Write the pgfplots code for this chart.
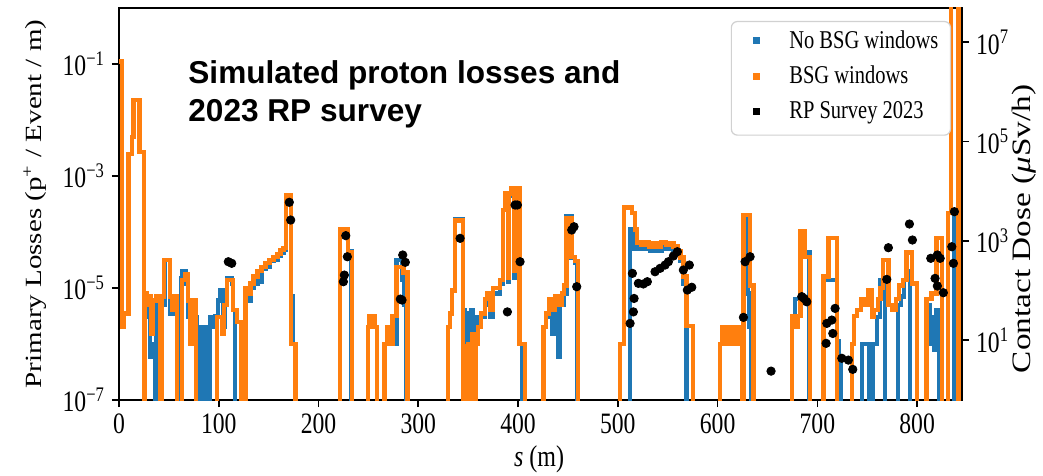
\documentclass[border=0pt]{standalone}
\usepackage{fontspec}
\setmainfont{Liberation Serif}
\newfontfamily\hfont[FakeStretch=0.8]{Liberation Serif}
\newfontfamily\vfont[FakeStretch=1.25]{Liberation Serif}
\newfontfamily\annfont{Liberation Sans}
\usepackage{pgfplots}
\pgfplotsset{compat=1.18}
\definecolor{tabblue}{HTML}{1F77B4}
\definecolor{taborange}{HTML}{FF7F0E}
\newcommand\tickfont{\hfont\fontsize{14.8pt}{17pt}\selectfont}
\newcommand\legfont{\hfont\fontsize{12.8pt}{15pt}\selectfont}
\pgfplotsset{
  common/.style={
    width=421.5pt, height=196pt, scale only axis,
    xmin=0, xmax=845,
    tick align=outside, major tick length=3.5pt,
    axis line style={line width=0.8pt},
    every tick/.style={black, line width=0.8pt},
    tick label style={font=\tickfont},
    /pgf/number format/assume math mode=true,
    yminorticks=false, xminorticks=false,
  },
  sqimg/.style={legend image code/.code={
    \path[draw=none, fill=none] (0,-3pt) rectangle (23pt,3pt);
    \fill[#1, draw=none, sharp corners] (5.75pt,-1.75pt) rectangle (9.25pt,1.75pt);}}
}
\begin{document}
\begin{tikzpicture}
\path[use as bounding box] (-59.5pt,-38pt) rectangle (462pt,200pt);
\begin{axis}[common,
  ymode=log, ymin=1e-7, ymax=1,
  tick pos=left,
  xtick={0,100,...,800},
  ytick={1e-7,1e-5,1e-3,1e-1},
  yticklabels={10\textsuperscript{−7},10\textsuperscript{−5},10\textsuperscript{−3},10\textsuperscript{−1}},
]
\addplot[const plot, tabblue, line width=2.2pt] coordinates {
(0,1.1e-1)(3,2e-6)(5,3.5e-6)(9.5,2.5e-3)(13,5e-3)(14.5,2.3e-2)(20.5,2.7e-3)(25,1e-10)(26,6e-6)(29,3e-6)(31,6e-7)(33,1e-6)(36,1e-10)(37,5e-6)(41,1e-10)(43,5e-6)(45.5,3.2e-5)(51,3.5e-6)(55,5e-6)(58,1e-10)(62,1.5e-5)(63.5,2e-5)(67,1.2e-5)(69,3e-6)(72,1e-6)(75,3e-6)(78,1e-10)(82.5,2e-6)(85,1e-10)(86,2e-6)(90,1e-10)(91,3e-6)(94,2e-6)(96,3.2e-6)(99,6e-6)(101,9e-6)(104,2e-6)(106,8e-6)(108,1.5e-5)(113,1.2e-5)(114,4e-6)(116,1e-10)(123,1.6e-6)(126,1e-10)(127,9e-6)(130,6e-6)(132,1e-5)(135,1.2e-5)(139,1.8e-5)(141,1.3e-5)(143,2.2e-5)(147,2.4e-5)(151,3e-5)(155,3.2e-5)(159,3.8e-5)(162,4.2e-5)(165,4.8e-5)(167.5,4.2e-4)(172.5,7e-6)(174.5,1e-6)(177,1e-10)
(221.5,1.1e-4)(229.5,4.6e-5)(233,1e-10)
(249.5,2e-6)(251,3.2e-6)(256,2e-6)(258.5,1e-10)(266,1e-6)(269,2e-6)(272,1e-6)(274,2e-6)(276,1e-6)(278,3.2e-5)(284,1.4e-5)(286,5e-6)(288,1e-10)
(330,2e-6)(332,3.5e-6)(334,9e-6)(337,1.7e-4)(345,4e-6)(347,1e-10)(349,3.5e-6)(351,1e-6)(353,4e-6)(355,1e-6)(357,3e-6)(360,2e-6)(363,3e-6)(367,5e-6)(369,6e-6)(372,3e-6)(375,8e-6)(382,1.2e-5)(385,2.5e-4)(387,4.5e-4)(390,1.3e-5)(391,4.5e-4)(393.5,5.5e-4)(396,1.5e-5)(397,5.5e-4)(401.5,1e-6)(404,1e-10)
(425.5,2e-6)(428,3e-6)(431,4e-6)(434,1.5e-6)(437,5e-6)(440,6e-7)(442,5e-6)(446,8e-6)(448.5,1.9e-4)(453.5,3.5e-5)(457,2.8e-5)(459,1e-10)
(512,1.1e-4)(516,5e-5)(520,5.5e-5)(524,5e-5)(528,5.5e-5)(532,4.6e-5)(536,5.2e-5)(540,4.7e-5)(544,5.5e-5)(548,5e-5)(552,5.5e-5)(556,4.8e-5)(560,4e-5)(563,3e-5)(566,1.2e-5)(569,1e-10)
(602.5,1e-6)(604.5,2e-6)(606,1e-6)(608.5,2e-6)(613,1e-6)(616,2e-6)(620,1e-6)(622.5,2e-6)(625.5,1e-10)(626,1.9e-4)(630,8e-6)(632,2e-6)(634,1e-10)
(674.5,2e-6)(677.5,6.3e-6)(683,4e-5)(687,4.3e-5)(692,1e-10)
(706,1.4e-5)(711,1.4e-5)(719.5,1.1e-6)(721.5,6e-7)(724,1e-10)
(745,1e-6)(752,1e-10)(756,1e-6)(760,3e-6)(763,1.4e-5)(768,1e-10)(781,5e-6)(784,7e-6)(787,1.4e-5)(790,2e-5)(793,1e-10)
(810,5e-6)(813,1e-6)(815,3e-6)(817,8e-7)(819.5,4e-6)(822,1e-10)
(831,2.2e-4)(837.5,1e-10)(845,1e-10)
};
\addplot[const plot, taborange, line width=2.2pt] coordinates {
(0,1.1e-1)(3,2e-6)(5,3.5e-6)(9.5,2.5e-3)(13,5e-3)(14.5,2.3e-2)(20.5,2.7e-3)(25,1e-10)(26,8e-6)(28,5e-6)(30,7e-6)(32,1.5e-6)(34,6e-6)(37,7e-6)(41,1e-10)(43,7e-6)(45,3.2e-5)(51,7e-6)(53,4e-6)(55,7e-6)(58,1e-10)(63,1.4e-5)(66,1.8e-5)(69,6e-6)(71,1e-6)(73,6e-6)(77,1e-10)(98.5,3e-6)(103,1.5e-6)(105,5e-6)(108,1.4e-5)(114,4e-6)(118,2.5e-6)(122,1e-10)(127,1e-5)(130,8e-6)(132,1.2e-5)(135,1.6e-5)(139,2e-5)(143,2.4e-5)(147,2.8e-5)(151,3.2e-5)(155,3.6e-5)(159,4e-5)(162,4.8e-5)(165,5.2e-5)(167.5,4.5e-4)(172.5,1e-6)(177,1e-10)
(221.5,1.1e-4)(229.5,4.3e-5)(233.5,1e-10)
(249.5,2e-6)(251,3.2e-6)(256,2e-6)(258.5,1e-10)(266,1e-6)(269,2e-6)(272,1e-6)(274,3.2e-6)(278,2.4e-5)(285,1.9e-5)(289,1e-10)
(330,2e-6)(332,3.5e-6)(334,9e-6)(337,1.6e-4)(345,1e-10)(346,9e-7)(348,1e-10)(350,1e-6)(352,1e-10)(354,1.5e-6)(356,1e-10)(358,1e-6)(360,2e-6)(363,3.5e-6)(367,6.3e-6)(369,8e-6)(372,4e-6)(375,1e-5)(382,1.4e-5)(385,2.5e-4)(387,4.9e-4)(390,1.5e-5)(391,4.9e-4)(393.5,6e-4)(396,2e-5)(397,6e-4)(401.5,1e-6)(407,1e-10)
(425.5,2e-6)(428,3.5e-6)(431,6.3e-6)(434,4e-6)(437,7e-6)(440,5e-6)(444,8e-6)(446,1.1e-5)(448.5,1.8e-4)(453.5,3.6e-5)(457,3e-5)(460,1e-10)
(502,1e-6)(506,2.75e-4)(514,2.2e-4)(517,1.1e-4)(519,6.5e-5)(523,5.8e-5)(527,6.5e-5)(531,5.5e-5)(535,6.2e-5)(539,5.5e-5)(543,6.5e-5)(548,5.8e-5)(552,6.3e-5)(556,5.5e-5)(560,4.6e-5)(563,3.5e-5)(566,1.6e-5)(569,2.1e-6)(575.5,1e-10)
(602.5,1e-6)(604.5,2e-6)(606,1e-6)(608.5,2e-6)(613,1e-6)(616,2e-6)(620,1e-6)(622.5,2e-6)(624.5,1e-10)(626,2e-4)(632.5,1.1e-5)(636,1e-10)
(674.5,3.2e-6)(677.5,2e-6)(680,3.2e-6)(683,1.05e-4)(687,3.6e-5)(692.5,1e-10)
(706,1.6e-5)(711,7.8e-5)(719.5,1e-10)
(734.5,1e-6)(737,3.2e-6)(740,4e-6)(744,6.3e-6)(747,5e-6)(751,9e-6)(754.5,3e-6)(757,4e-6)(761,6.3e-6)(763.5,1e-5)(766,3.2e-5)(771.5,5e-6)(775,4e-6)(779,6.3e-6)(782,1.1e-5)(786,1.4e-5)(789.5,4.3e-5)(795,1.2e-5)(800,1e-10)
(809.5,6.3e-6)(814.5,8e-6)(819.5,7.8e-5)(825,1e-10)
(831,2.2e-4)(834,2)(841.5,1e-10)(845,1e-10)
};
\end{axis}
\begin{axis}[common,
  ymode=log, ymin=0.621, ymax=4.9e7,
  axis x line=none, axis y line*=right,
  ytick={1e1,1e3,1e5,1e7},
  yticklabels={10\textsuperscript{1},10\textsuperscript{3},10\textsuperscript{5},10\textsuperscript{7}},
  legend style={at={(0.987,0.967)}, anchor=north east, draw=black!18, line width=0.6pt,
    rounded corners=3pt, fill=white, font=\legfont, inner xsep=5pt, inner ysep=3.5pt,
    row sep=3.5pt, nodes={inner sep=1pt}},
  legend cell align=left,
]
\addlegendimage{sqimg=tabblue}
\addlegendentry{No BSG windows}
\addlegendimage{sqimg=taborange}
\addlegendentry{BSG windows}
\addlegendimage{sqimg=black}
\addlegendentry{RP Survey 2023}
\addplot[only marks, mark=*, mark size=2.1pt, black, forget plot] coordinates {
(109.6,379)(113,352)(170.7,5970)(172.1,2620)(227.3,1270)(228.9,478)(225.9,204)(224.9,150)(284.4,518)(287,369)(282,67)(283.7,64)(341.9,1122)(389.3,37)(397,5270)(399.3,5270)(402,379)(453.8,1650)(456.1,1920)(458.8,119)(512.3,21.7)(515.6,37)(516.3,69)(514.6,221)(520.6,139)(525.6,135)(529.6,150)(537.3,238)(542.4,279)(547.4,325)(550.7,379)(555.7,494)(559.7,603)(565.7,258)(571.7,325)(569.7,102)(574.1,116)(627.6,379)(632.6,478)(625.9,28.7)(653.6,2.37)(684.4,75)(686.7,69)(689.4,59)(709.5,21.7)(714.5,25.3)(717.8,43.5)(715.5,13.6)(708.8,8.6)(724.5,4.3)(731.1,3.95)(735.5,2.57)(771.2,726)(769.6,167)(792.3,2180)(795.3,1038)(813.7,444)(820.3,518)(823.1,444)(818,175)(820.3,123)(826.3,90)(834.8,760)(836.4,352)(837.4,3860)
};
\end{axis}
\node[rotate=90, font=\vfont\fontsize{11.6pt}{14pt}\selectfont] at (-42pt,98pt) {Primary Losses (p\textsuperscript{+} / Event / m)};
\node[rotate=90, font=\vfont\fontsize{13.3pt}{16pt}\selectfont] at (452.5pt,85.5pt) {Contact Dose ({\itshape μ}Sv/h)};
\node[anchor=base, font=\hfont\fontsize{15pt}{18pt}\selectfont] at (210pt,-33pt) {{\itshape s} (m)};
\node[anchor=base west, inner sep=0pt, font=\annfont\bfseries\fontsize{15.8pt}{18pt}\selectfont] at (34.5pt,158pt) {Simulated proton losses and};
\node[anchor=base west, inner sep=0pt, font=\annfont\bfseries\fontsize{15.8pt}{18pt}\selectfont] at (34.5pt,139pt) {2023 RP survey};
\end{tikzpicture}
\end{document}
